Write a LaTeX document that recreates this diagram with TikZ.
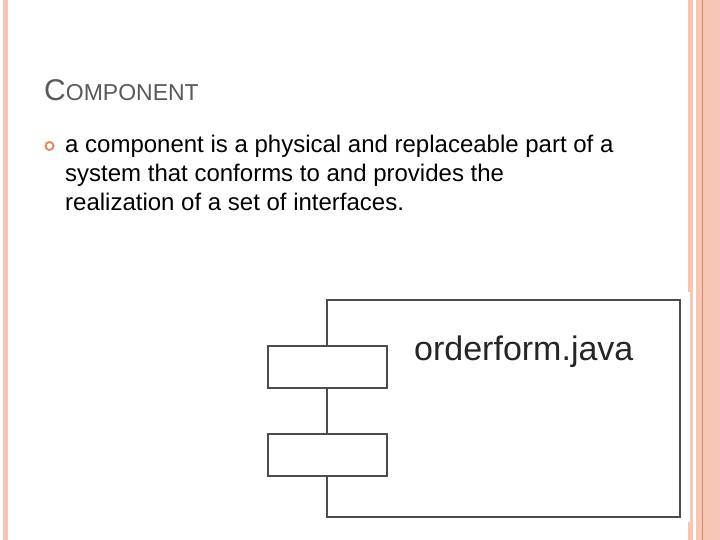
\documentclass[tikz,border=0pt]{standalone}
\usepackage{fontspec}
\setmainfont{Liberation Sans}
\begin{document}
\begin{tikzpicture}[x=1pt,y=-1pt,
  comp/.style={draw=black!70,line width=1.5pt,fill=white},
  port/.style={draw=black!70,line width=1.5pt,fill=white,minimum width=119pt,minimum height=42pt,inner sep=0pt}]
\useasboundingbox (0,0) rectangle (720,540);
\fill[white] (0,0) rectangle (720,540);
\definecolor{salmon}{RGB}{248,198,180}
\definecolor{rule}{RGB}{228,140,100}
\fill[salmon] (3,0) rectangle (8,540);
\fill[salmon] (688,0) rectangle (693,540);
\fill[salmon] (696,0) rectangle (720,540);
\draw[rule,line width=0.8pt] (702,0) -- (702,540);
\node[anchor=base west,inner sep=0pt,text=black!65,font=\fontsize{30}{34}\selectfont] (title) at (44,101)
  {C{\fontsize{23}{26}\selectfont OMPONENT}};
\node[circle,draw=rule,line width=2pt,inner sep=0pt,minimum size=8pt] (bul) at (49.5,146) {};
\node[anchor=base west,inner sep=0pt,align=left,font=\fontsize{24}{29}\selectfont] (txt) at (65,211)
  {a component is a physical and replaceable part of a\\system that conforms to and provides the\\realization of a set of interfaces.};
\fill[white] (262,292) rectangle (690,522);
\node[comp,minimum width=353pt,minimum height=217pt,inner sep=0pt] (c) at (503.5,408.5) {};
\node[anchor=base west,inner sep=0pt,font=\fontsize{34}{38}\selectfont,text=black!85] (name) at (414,360) {orderform.java};
\node[port] (p1) at (327.5,367) {};
\node[port] (p2) at (327.5,455) {};
\end{tikzpicture}
\end{document}
